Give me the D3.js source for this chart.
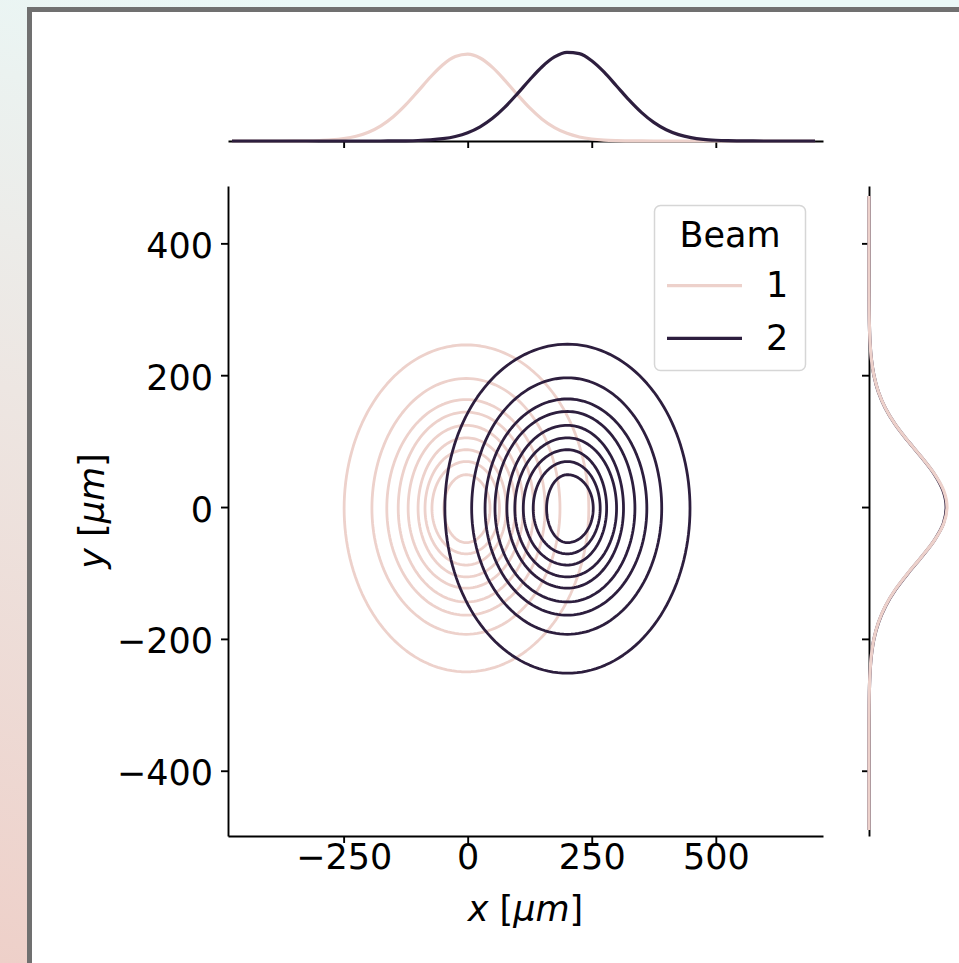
<!DOCTYPE html>
<html><head><meta charset="utf-8">
<script src="https://cdn.jsdelivr.net/npm/d3@7"></script>
<style>
html,body{margin:0;padding:0;overflow:hidden;}
svg{display:block;font-family:"DejaVu Sans",sans-serif;}
</style></head>
<body>
<svg id="chart" width="959" height="963"></svg>
<script>
// ---------------- data ----------------
const beams = ["1", "2"];
const beamColors = ["#edd1cb", "#2d1e3e"];
const xTicks = [-250, 0, 250, 500];
const yTicks = [-400, -200, 0, 200, 400];

// contour extents (µm), outermost to innermost level
const beam1Center = [-3, -2];
const beam1Left   = [-249, -193, -163, -140, -120, -100, -86, -72, -48];
const beam1Right  = [244, 186, 156, 133, 112, 96, 78, 64, 45];
const beam1Top    = [246, 195, 163, 144, 124, 105, 87, 69, 49];
const beam1Bottom = [-250, -193, -164, -144, -123, -106, -88, -71, -54];

const beam2Center = [201, -2];
const beam2Left   = [-46, 8, 35, 55, 79, 95, 112, 132, 159];
const beam2Right  = [448, 391, 361, 337, 314, 300, 280, 267, 253];
const beam2Top    = [247, 196, 164, 145, 124, 105, 87, 69, 49];
const beam2Bottom = [-252, -193, -164, -144, -123, -106, -88, -71, -54];

// marginal densities (1e-3 / µm)
const margX = [-475,-450,-425,-400,-375,-350,-325,-300,-275,-250,-225,-200,-175,-150,-125,-100,-75,-50,-25,0,25,50,75,100,125,150,175,200,225,250,275,300,325,350,375,400,425,450,475,500,525,550,575,600,625,650,675,700];
const beam1MargX = [0,0,0,0,0.0005,0.0018,0.0047,0.012,0.027,0.058,0.117,0.217,0.375,0.60,0.892,1.233,1.583,1.887,2.089,2.149,2.053,1.821,1.501,1.149,0.817,0.539,0.331,0.189,0.0998,0.049,0.022,0.0097,0.004,0.0015,0.0005,0,0,0,0,0,0,0,0,0,0,0,0,0];
const beam2MargX = [0,0,0,0,0,0,0,0,0,0,0,0,0,0.002,0.005,0.012,0.027,0.0567,0.112,0.205,0.351,0.561,0.838,1.167,1.516,1.838,2.079,2.194,2.161,1.986,1.703,1.362,1.017,0.709,0.461,0.279,0.158,0.0836,0.041,0.019,0.008,0.003,0.001,0.0004,0,0,0,0];

const margY = [-490,-475,-450,-425,-400,-375,-350,-325,-300,-275,-250,-225,-200,-175,-150,-125,-100,-75,-50,-25,0,25,50,75,100,125,150,175,200,225,250,275,300,325,350,375,400,425,450,472];
const beam1MargY = [0,0,0,0,0,0,0.0004,0.0013,0.0038,0.0103,0.0256,0.058,0.121,0.232,0.407,0.654,0.966,1.308,1.623,1.848,1.93,1.848,1.623,1.308,0.966,0.654,0.407,0.232,0.121,0.058,0.0256,0.0103,0.0038,0.0013,0.0004,0,0,0,0,0];
const beam2MargY = [0,0,0,0,0,0,0.0004,0.0013,0.0039,0.0105,0.026,0.059,0.123,0.236,0.412,0.66,0.972,1.31,1.62,1.84,1.91,1.83,1.615,1.305,0.965,0.652,0.405,0.23,0.12,0.057,0.0252,0.0101,0.0037,0.0013,0.0004,0,0,0,0,0];

// ---------------- drawing ----------------
const svg = d3.select("#chart");
const defs = svg.append("defs");
const grad = defs.append("linearGradient").attr("id","bg").attr("x1","0.3").attr("y1","0").attr("x2","0").attr("y2","1");
grad.append("stop").attr("offset","0").attr("stop-color","#eaf8f7");
grad.append("stop").attr("offset","0.45").attr("stop-color","#ede6e2");
grad.append("stop").attr("offset","1").attr("stop-color","#eed0c9");
svg.append("rect").attr("width",959).attr("height",963).attr("fill","url(#bg)");
svg.append("rect").attr("x",29.5).attr("y",9.5).attr("width",1100).attr("height",1100)
  .attr("fill","#ffffff").attr("stroke","#707070").attr("stroke-width",5);

const FS = 35;
const x = d3.scaleLinear().domain([-483, 716]).range([228, 823]);
const y = d3.scaleLinear().domain([-499, 487]).range([836, 186]);
const topY = d3.scaleLinear().domain([0, 2.4]).range([141, 44]);
const rightX = d3.scaleLinear().domain([0, 2.4]).range([869, 966]);

function styleAxis(g){
  g.selectAll("path.domain").attr("stroke","#000").attr("stroke-width",1.9);
  g.selectAll(".tick line").attr("stroke","#000").attr("stroke-width",1.9);
  g.selectAll(".tick text").attr("fill","#000").style("font-size",FS+"px").style("font-family","DejaVu Sans");
}
const fmt = d => d < 0 ? "\u2212" + Math.abs(d) : String(d);

// main axes
const gx = svg.append("g").attr("transform","translate(0,836)")
  .call(d3.axisBottom(x).tickValues(xTicks).tickFormat(fmt).tickSize(7).tickSizeOuter(0).tickPadding(1));
styleAxis(gx);
const gy = svg.append("g").attr("transform","translate(228,0)")
  .call(d3.axisLeft(y).tickValues(yTicks).tickFormat(fmt).tickSize(7).tickSizeOuter(0).tickPadding(8));
styleAxis(gy);
gy.selectAll(".tick text").attr("dy","0.4em");

// marginal axes
const gtx = svg.append("g").attr("transform","translate(0,141)")
  .call(d3.axisBottom(x).tickValues(xTicks).tickFormat("").tickSize(7).tickSizeOuter(0));
styleAxis(gtx);
const gry = svg.append("g").attr("transform","translate(869,0)")
  .call(d3.axisLeft(y).tickValues(yTicks).tickFormat("").tickSize(7).tickSizeOuter(0));
styleAxis(gry);

// axis labels
const xl = svg.append("text").attr("x",525.5).attr("y",921).attr("text-anchor","middle")
  .style("font-size",FS+"px").attr("fill","#000");
xl.append("tspan").attr("font-style","italic").text("x");
xl.append("tspan").text(" [");
xl.append("tspan").attr("font-style","italic").text("\u03bcm");
xl.append("tspan").text("]");
const yl = svg.append("text").attr("transform","translate(104,511) rotate(-90)").attr("text-anchor","middle")
  .style("font-size",FS+"px").attr("fill","#000");
yl.append("tspan").attr("font-style","italic").text("y");
yl.append("tspan").text(" [");
yl.append("tspan").attr("font-style","italic").text("\u03bcm");
yl.append("tspan").text("]");

// contours: closed elliptical curves through the read extents
function contourPoints(c, l, r, t, b){
  const pts = [];
  const N = 160;
  for (let i = 0; i < N; i++){
    const a = 2*Math.PI*i/N, ca = Math.cos(a), sa = Math.sin(a);
    const rx = ca >= 0 ? (r - c[0]) : (c[0] - l);
    const ry = sa >= 0 ? (t - c[1]) : (c[1] - b);
    pts.push([c[0] + rx*ca, c[1] + ry*sa]);
  }
  return pts;
}
const closedLine = d3.line().x(d => x(d[0])).y(d => y(d[1])).curve(d3.curveLinearClosed);
const contourSets = [
  {c: beam1Center, l: beam1Left, r: beam1Right, t: beam1Top, b: beam1Bottom, color: beamColors[0]},
  {c: beam2Center, l: beam2Left, r: beam2Right, t: beam2Top, b: beam2Bottom, color: beamColors[1]}
];
contourSets.forEach(s => {
  const g = svg.append("g");
  s.l.forEach((_, i) => {
    g.append("path").attr("d", closedLine(contourPoints(s.c, s.l[i], s.r[i], s.t[i], s.b[i])))
      .attr("fill","none").attr("stroke", s.color).attr("stroke-width", 2.8).attr("stroke-linejoin","round");
  });
});

// top marginal
const topLine = d3.line().x((d,i) => x(margX[i])).y(d => topY(d)).curve(d3.curveMonotoneX);
[beam1MargX, beam2MargX].forEach((arr, k) => {
  svg.append("path").attr("d", topLine(arr)).attr("fill","none")
    .attr("stroke", beamColors[k]).attr("stroke-width", 3.2);
});
// right marginal (beam 2 under beam 1)
const rightLine = d3.line().x(d => rightX(d)).y((d,i) => y(margY[i])).curve(d3.curveMonotoneY);
[[beam2MargY, 1], [beam1MargY, 0]].forEach(([arr, k]) => {
  svg.append("path").attr("d", rightLine(arr)).attr("fill","none")
    .attr("stroke", beamColors[k]).attr("stroke-width", 3.2);
});

// legend
const lg = svg.append("g");
lg.append("rect").attr("x",654.5).attr("y",205.5).attr("width",151).attr("height",165).attr("rx",6)
  .attr("fill","#ffffff").attr("fill-opacity",0.8).attr("stroke","#d6d6d6").attr("stroke-width",1.5);
lg.append("text").attr("x",730).attr("y",247).attr("text-anchor","middle").style("font-size",FS+"px").text("Beam");
const legY = [285.7, 338.3];
const legBase = [297, 350];
beams.forEach((b, i) => {
  lg.append("line").attr("x1",667).attr("x2",742).attr("y1",legY[i]).attr("y2",legY[i])
    .attr("stroke", beamColors[i]).attr("stroke-width", 3.3);
  lg.append("text").attr("x",766).attr("y",legBase[i]).style("font-size",FS+"px").text(b);
});
</script>
</body></html>
